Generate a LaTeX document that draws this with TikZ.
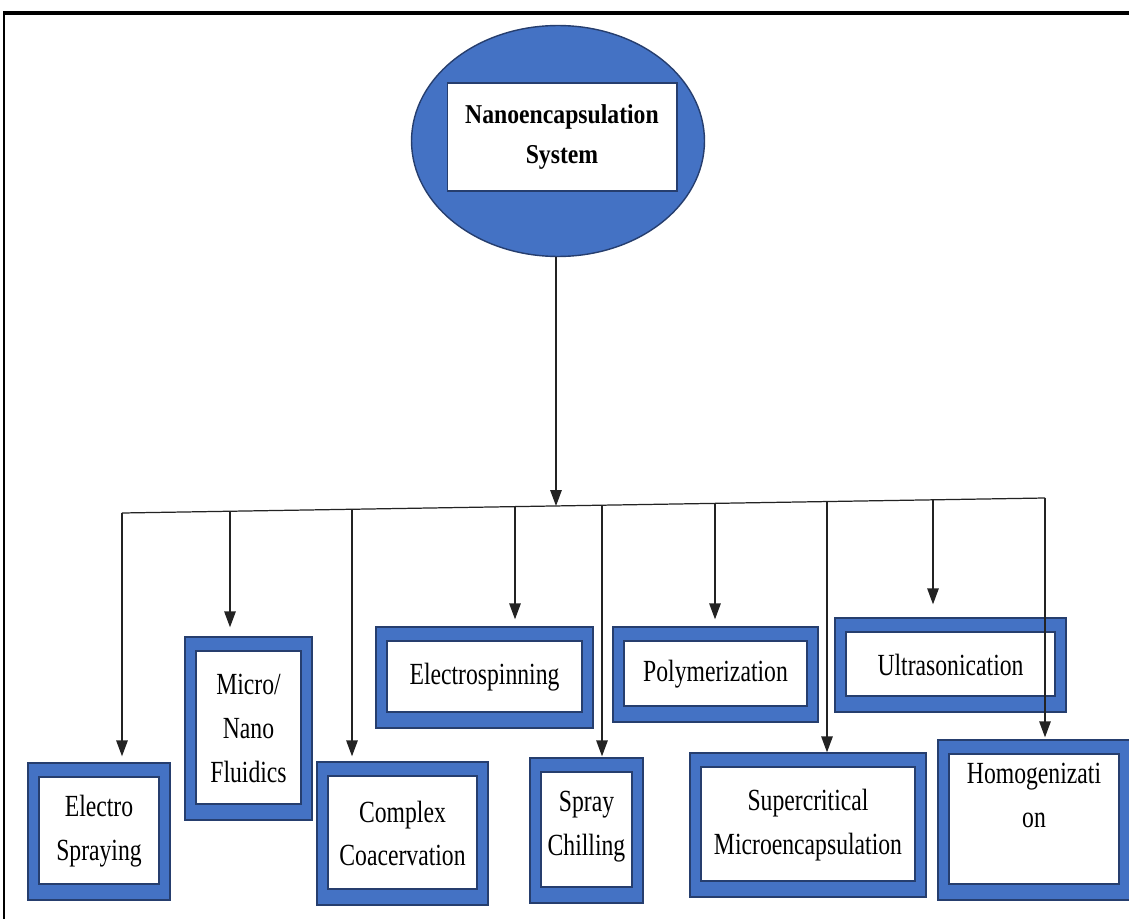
\documentclass[tikz,border=0pt]{standalone}
\usepackage{fontspec}
\setmainfont{Liberation Serif}[FakeStretch=0.77]
\newfontfamily\headfont{Liberation Serif}[FakeStretch=0.87]
\usetikzlibrary{shapes.geometric, arrows.meta, calc}
\definecolor{Boxblue}{RGB}{68,114,196}
\definecolor{Edge}{RGB}{38,62,110}
\definecolor{Wire}{RGB}{35,35,35}

\tikzset{
    method/.style 2 args={draw=Edge, line width=0.8pt, fill=Boxblue,
        minimum width=#1*0.02cm, minimum height=#2*0.02cm, inner sep=0pt,
        align=center, font=\fontsize{17.5}{25}\selectfont,
        path picture={\filldraw[fill=white, draw=Edge, line width=0.6pt]
            ([xshift=0.22cm,yshift=0.32cm]path picture bounding box.south west)
            rectangle ([xshift=-0.22cm,yshift=-0.28cm]path picture bounding box.north east);}},
    branch/.style={Wire, line width=0.7pt, -{Triangle[length=9pt,width=6.5pt]}},
}

\begin{document}
\begin{tikzpicture}[x=0.02cm, y=-0.02cm]

    \useasboundingbox (0,0) rectangle (1129,919);
    \clip (0,0) rectangle (1129,919);

    % frame
    \draw[line width=1pt] (4,940) -- (4,13);
    \draw[line width=2pt] (3,13) -- (1140,13);

    % top ellipse
    \node[ellipse, draw=Edge, line width=0.8pt, fill=Boxblue,
        minimum width=5.86cm, minimum height=4.62cm] (sys) at (558,141) {};
    \node[draw=Edge, line width=0.6pt, fill=white, minimum width=4.6cm, minimum height=2.16cm,
        align=center, font=\headfont\bfseries\fontsize{15.5}{22.7}\selectfont]
        (title) at (562,137) {Nanoencapsulation\\System};

    % method boxes
    \node[method={142}{137}] (elspray) at (99,831.5) {Electro\\Spraying};
    \node[method={127}{183}] (fluidic) at (248.5,728.5) {Micro/\\Nano\\Fluidics};
    \node[method={171}{143}] (coacerv) at (402.5,833.5) {Complex\\Coacervation};
    \node[method={217}{101}] (elspin) at (484.5,677.5) {Electrospinning};
    \node[method={113}{145}, text depth=8pt] (chill) at (586.5,830.5) {Spray\\Chilling};
    \node[method={205}{95}] (polymer) at (715.5,674.5) {Polymerization};
    \node[method={236}{144}] (supercrit) at (808,825) {Supercritical\\Microencapsulation};
    \node[method={231}{94}] (ultra) at (950.5,665) {Ultrasonication};
    \node[method={192}{160}, text depth=28pt] (homog) at (1034,820) {Homogenizati\\on};

    % bus line
    \coordinate (busL) at (122,513);
    \coordinate (busR) at (1045,498);
    \coordinate (hub) at (556,506);
    \draw[Wire, line width=0.7pt] (busL) -- (busR);
    \draw[branch] (hub |- sys.south) -- (hub);

    % branches
    \foreach \nm/\bx/\by/\gap in {elspray/122/513/6, fluidic/230/511.2/9, coacerv/352/509.3/5,
        elspin/515/506.6/7, chill/602/505.2/1, polymer/715/503.4/7,
        supercrit/827/501.5/0, ultra/933/499.8/13, homog/1045/498/2}{
        \coordinate (b-\nm) at (\bx,\by);
        \draw[branch, shorten >=\gap*0.02cm] (b-\nm) -- (b-\nm |- \nm.north);
    }

\end{tikzpicture}
\end{document}
